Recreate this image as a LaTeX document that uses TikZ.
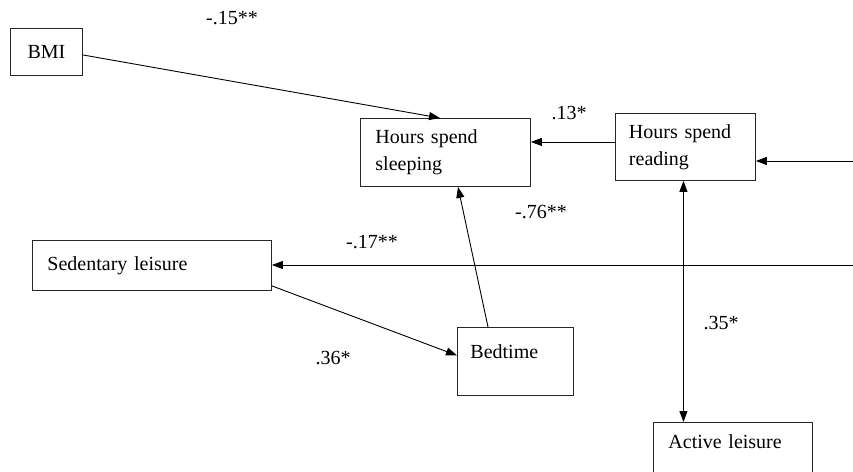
\documentclass[tikz,border=0pt]{standalone}
\usepackage{fontspec}
\setmainfont{Liberation Serif}
\usetikzlibrary{arrows.meta}
\begin{document}
\begin{tikzpicture}[x=1pt,y=-1pt,
  box/.style={draw=black!85,line width=0.9pt,rectangle,anchor=north west,inner ysep=0pt,align=left,font=\fontsize{20}{27}\selectfont},
  lbl/.style={font=\fontsize{20}{24}\selectfont,inner sep=0pt},
  arr/.style={line width=0.9pt,-{Triangle[length=11pt,width=8pt]}},
  arrb/.style={line width=0.9pt,{Triangle[length=11pt,width=8pt]}-{Triangle[length=11pt,width=8pt]}}]
\useasboundingbox (0,0) rectangle (853,471);
\node[box,minimum width=72pt,minimum height=47pt,inner xsep=12pt] (bmi) at (10,28) {BMI};
\node[box,minimum width=170pt,minimum height=68pt,text width=140pt,inner xsep=15pt] (sleep) at (360,118) {Hours spend\\sleeping};
\node[box,minimum width=140pt,minimum height=67pt,text width=113pt,inner xsep=13.5pt] (read) at (615,113) {Hours spend\\reading};
\node[box,minimum width=239pt,minimum height=50pt,text width=209pt,inner xsep=15pt] (sed) at (32,240) {Sedentary leisure};
\node[box,minimum width=116pt,minimum height=68pt,text width=90pt,inner xsep=13pt,text height=20pt,text depth=25pt] (bed) at (457,327) {Bedtime};
\node[box,minimum width=159pt,text width=129pt,inner xsep=15pt,inner ysep=12pt,text height=14pt,text depth=50pt] (act) at (653,422) {Active leisure};
\coordinate (rin) at (853,161);
\coordinate (sin) at (853,265);
\draw[arr] ([yshift=-3pt]bmi.east) -- ([xshift=80pt]sleep.north west);
\draw[arr] ([yshift=5pt]read.west) -- ([yshift=5pt]read.west -| sleep.east);
\draw[arr] (rin) -- (rin -| read.east);
\draw[arr] (sin) -- (sin -| sed.east);
\draw[arr] ([yshift=5pt]sed.south east) -- ([yshift=6pt]bed.west);
\draw[arr] ([xshift=31pt]bed.north west) -- ([xshift=98pt]sleep.south west);
\draw[arrb] ([xshift=-2pt]read.south) -- ([xshift=-2pt]read.south |- act.north);
\node[lbl] (l1) at (232,18) {-.15**};
\node[lbl] (l2) at (569,113) {.13*};
\node[lbl] (l3) at (541,212) {-.76**};
\node[lbl] (l4) at (372,242) {-.17**};
\node[lbl] (l5) at (333,358) {.36*};
\node[lbl] (l6) at (721,323) {.35*};
\end{tikzpicture}
\end{document}
